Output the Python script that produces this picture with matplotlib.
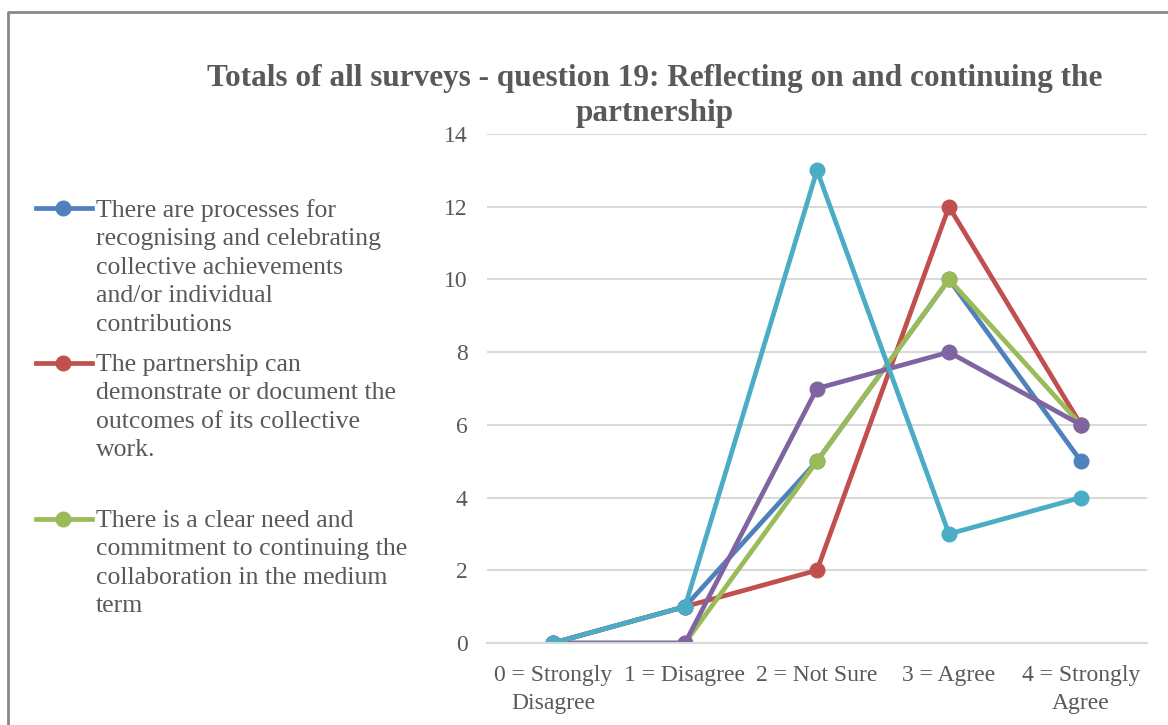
import matplotlib.pyplot as plt
from matplotlib.lines import Line2D

plt.rcParams['font.family'] = ['Liberation Serif', 'DejaVu Serif']

categories = ['0 = Strongly\nDisagree', '1 = Disagree', '2 = Not Sure', '3 = Agree', '4 = Strongly\nAgree']
series_names = [
    'There are processes for\nrecognising and celebrating\ncollective achievements\nand/or individual\ncontributions',
    'The partnership can\ndemonstrate or document the\noutcomes of its collective\nwork.',
    'There is a clear need and\ncommitment to continuing the\ncollaboration in the medium\nterm',
    'Series 4',
    'Series 5',
]
processes = [0, 1, 5, 10, 5]
outcomes = [0, 1, 2, 12, 6]
need = [0, 0, 5, 10, 6]
series4 = [0, 0, 7, 8, 6]
series5 = [0, 1, 13, 3, 4]
colors = ['#4F81BD', '#C0504D', '#9BBB59', '#8064A2', '#4BACC6']
yticks = [0, 2, 4, 6, 8, 10, 12, 14]

fig = plt.figure(figsize=(11.68, 7.25), dpi=100)
ax = fig.add_axes([487 / 1168, 1 - 643 / 725, 660 / 1168, 509 / 725])

x = range(len(categories))
for vals, c in zip([processes, outcomes, need, series4, series5], colors):
    ax.plot(x, vals, color=c, linewidth=3.4, marker='o', markersize=10.5)

ax.set_xlim(-0.5, 4.5)
ax.set_ylim(0, 14)
ax.set_yticks(yticks)
ax.set_xticks(list(x))
ax.set_xticklabels(categories, fontsize=17, color='#595959', linespacing=1.4)
ax.tick_params(axis='y', labelsize=17, labelcolor='#595959', length=0, pad=14)
ax.tick_params(axis='x', length=0, pad=16)
ax.grid(axis='y', color='#d9d9d9', linewidth=1.5)
ax.set_axisbelow(True)
for s in ax.spines.values():
    s.set_visible(False)
ax.spines['bottom'].set_visible(True)
ax.spines['bottom'].set_color('#d9d9d9')
ax.spines['bottom'].set_linewidth(1.5)

fig.text(655 / 1168, 1 - 96 / 725,
         'Totals of all surveys - question 19: Reflecting on and continuing the\npartnership',
         ha='center', va='center', fontsize=22.5, fontweight='bold', color='#595959',
         linespacing=1.3)

# manual legend, only the first three entries are visible in the original
legend_y = [208, 363, 519]
for i, ly in enumerate(legend_y):
    yf = 1 - ly / 725
    fig.add_artist(Line2D([36 / 1168, 92 / 1168], [yf, yf], color=colors[i], linewidth=3.4,
                          transform=fig.transFigure))
    fig.add_artist(Line2D([63 / 1168], [yf], color=colors[i], marker='o', markersize=10.5,
                          transform=fig.transFigure))
    fig.text(96 / 1168, 1 - (ly - 9) / 725, series_names[i], ha='left', va='top',
             fontsize=18.5, color='#595959', linespacing=1.38)

# outer frame
fig.add_artist(Line2D([8 / 1168, 8 / 1168, 1.0], [0, 1 - 12 / 725, 1 - 12 / 725],
                      color='#888888', linewidth=2, transform=fig.transFigure))

fig.savefig('out.png', dpi=100)
